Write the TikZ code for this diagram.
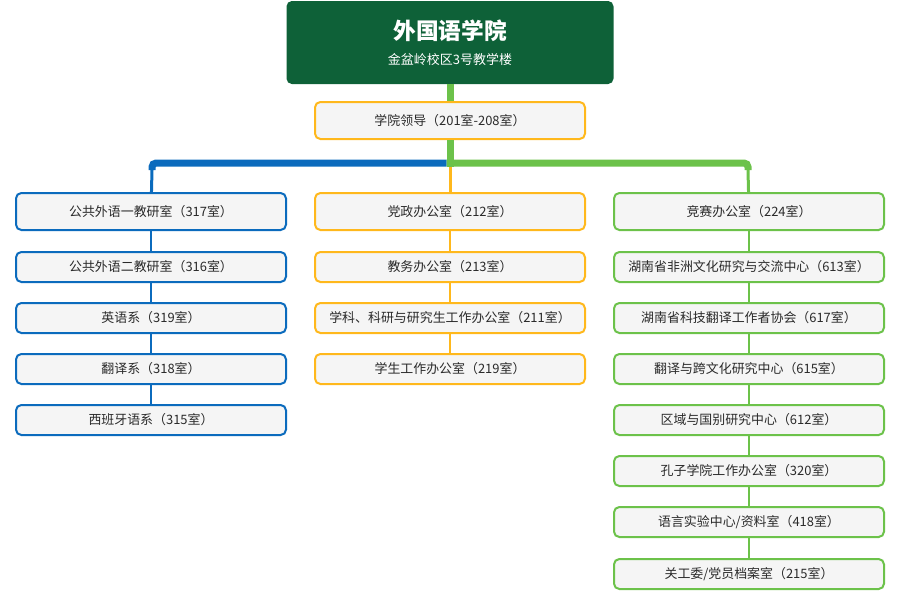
\documentclass[tikz,border=0pt]{standalone}
\usepackage{fontspec}
\usepackage{xcolor}
\usepackage{tikz}
\setmainfont{Noto Sans CJK SC}
\definecolor{deptgreen}{HTML}{0E6138}
\definecolor{lineblue}{HTML}{0B6BBD}
\definecolor{linegreen}{HTML}{6CC24A}
\definecolor{lineorange}{HTML}{FFB81C}
\definecolor{boxfill}{HTML}{F5F5F5}
\definecolor{boxtext}{HTML}{2A2A2A}

\begin{document}
\begin{tikzpicture}[x=0.75pt, y=-0.75pt,
    office/.style={fill=boxfill, rounded corners=4pt, line width=1.5pt,
      minimum width=202.5pt, minimum height=22.5pt, inner sep=0pt,
      text=boxtext, font=\fontsize{9.7}{11}\selectfont},
    headoffice/.style={office, minimum height=27.75pt},
    trunk/.style={line width=5.25pt},
    drop/.style={line width=2.25pt},
    link/.style={line width=2.1pt}]
  \useasboundingbox (0,0) rectangle (900,590);

  % college header
  \node[fill=deptgreen, rounded corners=4pt, minimum width=245.25pt,
        minimum height=62.25pt, text=white, align=center] (college) at (450,42.5) {%
    {\fontsize{17}{20}\selectfont\bfseries 外国语学院}\\[7pt]
    {\fontsize{9.75}{12}\selectfont 金盆岭校区3号教学楼}};
  \node[headoffice, draw=lineorange] (lead) at (450,120.5) {学院领导（201室-208室）};

  % left column
  \node[headoffice, draw=lineblue] (b1) at (151,211.5) {公共外语一教研室（317室）};
  \node[office, draw=lineblue] (b2) at (151,267) {公共外语二教研室（316室）};
  \node[office, draw=lineblue] (b3) at (151,318) {英语系（319室）};
  \node[office, draw=lineblue] (b4) at (151,369) {翻译系（318室）};
  \node[office, draw=lineblue] (b5) at (151,420) {西班牙语系（315室）};

  % middle column
  \node[headoffice, draw=lineorange] (o1) at (450,211.5) {党政办公室（212室）};
  \node[office, draw=lineorange] (o2) at (450,267) {教务办公室（213室）};
  \node[office, draw=lineorange] (o3) at (450,318) {学科、科研与研究生工作办公室（211室）};
  \node[office, draw=lineorange] (o4) at (450,369) {学生工作办公室（219室）};

  % right column
  \node[headoffice, draw=linegreen] (g1) at (749,211.5) {竞赛办公室（224室）};
  \node[office, draw=linegreen] (g2) at (749,267) {湖南省非洲文化研究与交流中心（613室）};
  \node[office, draw=linegreen] (g3) at (749,318) {湖南省科技翻译工作者协会（617室）};
  \node[office, draw=linegreen] (g4) at (749,369) {翻译与跨文化研究中心（615室）};
  \node[office, draw=linegreen] (g5) at (749,420) {区域与国别研究中心（612室）};
  \node[office, draw=linegreen] (g6) at (749,471) {孔子学院工作办公室（320室）};
  \node[office, draw=linegreen] (g7) at (749,522) {语言实验中心/资料室（418室）};
  \node[office, draw=linegreen] (g8) at (749,574) {关工委/党员档案室（215室）};

  \coordinate (hubleft) at (446.5,163);
  \coordinate (hub) at (450,166.5);
  \coordinate (bturn) at (152,170);
  \coordinate (gturn) at (748,170);

  % trunk and branches
  \draw[linegreen, trunk] (college) -- (lead);
  \draw[lineblue, trunk, rounded corners=3pt] (hubleft) -| (bturn);
  \draw[linegreen, trunk, rounded corners=3pt] (hubleft) -| (gturn);
  \draw[linegreen, trunk] (lead) -- (hub);
  \draw[lineblue, drop] (bturn) -- (b1);
  \draw[lineorange, drop] (hub) -- (o1);
  \draw[linegreen, drop] (gturn) -- (g1);

  \foreach \a/\b in {b1/b2, b2/b3, b3/b4, b4/b5}
    \draw[lineblue, link] (\a) -- (\b);
  \foreach \a/\b in {o1/o2, o2/o3, o3/o4}
    \draw[lineorange, link] (\a) -- (\b);
  \foreach \a/\b in {g1/g2, g2/g3, g3/g4, g4/g5, g5/g6, g6/g7, g7/g8}
    \draw[linegreen, link] (\a) -- (\b);
\end{tikzpicture}
\end{document}
